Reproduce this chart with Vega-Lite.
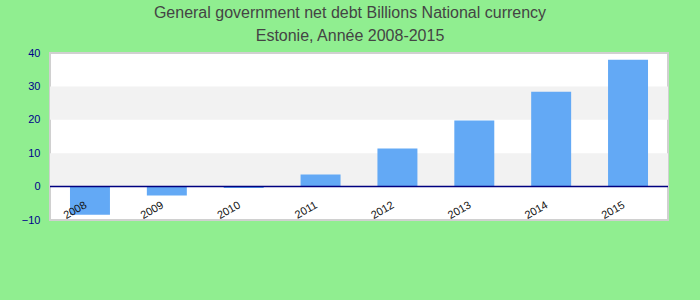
{
  "$schema": "https://vega.github.io/schema/vega-lite/v6.json",
  "width": 618,
  "height": 167,
  "autosize": "none",
  "padding": {"left": 50, "top": 53, "right": 32, "bottom": 80},
  "background": "#90EE90",
  "view": {"fill": "white", "stroke": "#d0d0d0", "strokeWidth": 2},
  "config": {
    "axis": {"labelOverlap": false}
  },
  "title": {
    "text": ["General government net debt Billions National currency", "Estonie, Année 2008-2015"],
    "font": "Liberation Sans",
    "fontSize": 16,
    "fontWeight": "normal",
    "color": "#444444",
    "lineHeight": 23,
    "anchor": "middle",
    "dx": -9,
    "offset": 3
  },
  "datasets": {
    "bars": [
      {"year": "2008", "value": -8.4},
      {"year": "2009", "value": -2.7},
      {"year": "2010", "value": -0.4},
      {"year": "2011", "value": 3.6},
      {"year": "2012", "value": 11.4},
      {"year": "2013", "value": 19.8},
      {"year": "2014", "value": 28.4},
      {"year": "2015", "value": 38.0}
    ],
    "bands": [
      {"lo": 0, "hi": 10},
      {"lo": 20, "hi": 30}
    ],
    "zero": [{"v": 0}]
  },
  "layer": [
    {
      "data": {"name": "bands"},
      "mark": {"type": "rect", "color": "#f2f2f2"},
      "encoding": {
        "y": {
          "field": "lo",
          "type": "quantitative",
          "scale": {"domain": [-10, 40], "nice": false},
          "axis": {
            "title": null,
            "domain": false,
            "ticks": false,
            "grid": false,
            "values": [-10, 0, 10, 20, 30, 40],
            "labelOverlap": false,
            "labelFlush": false,
            "labelSeparation": 0,
            "labelPadding": 10,
            "labelFont": "Liberation Sans",
            "labelFontSize": 11,
            "labelColor": "#00008b"
          }
        },
        "y2": {"field": "hi"}
      }
    },
    {
      "data": {"name": "bars"},
      "mark": {"type": "bar", "color": "#63a9f5"},
      "encoding": {
        "x": {
          "field": "year",
          "type": "ordinal",
          "scale": {"paddingInner": 0.48, "paddingOuter": 0.26},
          "axis": {
            "title": null,
            "domain": false,
            "ticks": false,
            "zindex": 2,
            "labelAngle": -30,
            "labelAlign": "right",
            "labelBaseline": "middle",
            "labelPadding": -16,
            "labelOffset": -4,
            "labelOverlap": false,
            "labelFont": "Liberation Sans",
            "labelFontSize": 11,
            "labelColor": "#111111"
          }
        },
        "y": {
          "field": "value",
          "type": "quantitative",
          "scale": {"domain": [-10, 40], "nice": false},
          "axis": {
            "title": null,
            "domain": false,
            "ticks": false,
            "grid": false,
            "values": [-10, 0, 10, 20, 30, 40],
            "labelOverlap": false,
            "labelFlush": false,
            "labelSeparation": 0,
            "labelPadding": 10,
            "labelFont": "Liberation Sans",
            "labelFontSize": 11,
            "labelColor": "#00008b"
          }
        }
      }
    },
    {
      "data": {"name": "zero"},
      "mark": {"type": "rule", "color": "#000080", "strokeWidth": 1.5},
      "encoding": {
        "y": {
          "field": "v",
          "type": "quantitative",
          "axis": {
            "title": null,
            "domain": false,
            "ticks": false,
            "grid": false,
            "values": [-10, 0, 10, 20, 30, 40],
            "labelOverlap": false,
            "labelFlush": false,
            "labelSeparation": 0,
            "labelPadding": 10,
            "labelFont": "Liberation Sans",
            "labelFontSize": 11,
            "labelColor": "#00008b"
          }
        }
      }
    }
  ]
}
